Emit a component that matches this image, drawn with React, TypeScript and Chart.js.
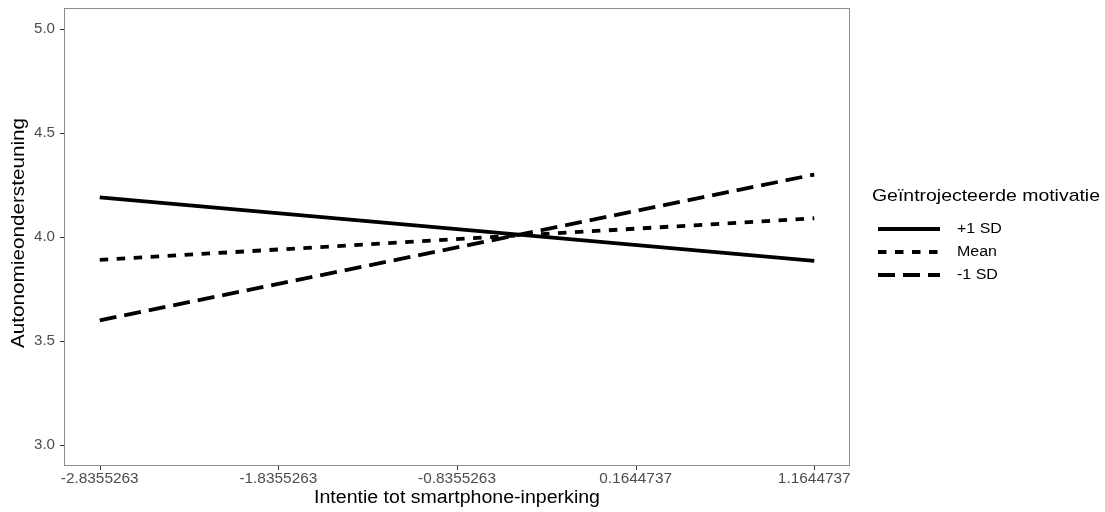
import React, { useEffect, useRef } from "react";
import { Chart, registerables } from "chart.js";

Chart.register(...registerables);

const xValues = [-2.8355263, 1.1644737];
const xTicks = [-2.8355263, -1.8355263, -0.8355263, 0.1644737, 1.1644737];
const xTickLabels = ["-2.8355263", "-1.8355263", "-0.8355263", "0.1644737", "1.1644737"];
const yTicks = [3.0, 3.5, 4.0, 4.5, 5.0];
const yTickLabels = ["3.0", "3.5", "4.0", "4.5", "5.0"];
const seriesLabels = ["+1 SD", "Mean", "-1 SD"];
const plusOneSD = [4.19, 3.885];
const meanValues = [3.89, 4.09];
const minusOneSD = [3.6, 4.3];
const dashPatterns: number[][] = [[], [8.5, 8.5], [17, 8]];
const legendTitle = "Geïntrojecteerde motivatie";
const xTitle = "Intentie tot smartphone-inperking";
const yTitle = "Autonomieondersteuning";

const FONT = "'Liberation Sans', Arial, sans-serif";
const LW = 3.8;

function drawStretched(
  ctx: CanvasRenderingContext2D,
  text: string,
  x: number,
  y: number,
  size: number,
  sx: number,
  align: "left" | "center" | "right",
  baseline: CanvasTextBaseline
) {
  ctx.save();
  ctx.font = `${size}px ${FONT}`;
  ctx.textBaseline = baseline;
  ctx.textAlign = align;
  ctx.translate(x, y);
  ctx.scale(sx, 1);
  ctx.fillText(text, 0, 0);
  ctx.restore();
}

function fitWidth(ctx: CanvasRenderingContext2D, text: string, size: number, target: number) {
  ctx.save();
  ctx.font = `${size}px ${FONT}`;
  const w = ctx.measureText(text).width;
  ctx.restore();
  return target / w;
}

export default function App() {
  const ref = useRef<HTMLCanvasElement>(null);
  useEffect(() => {
    document.body.style.margin = "0";
    const seriesData = [plusOneSD, meanValues, minusOneSD];
    const datasets = seriesData.map((vals, i) => ({
      label: seriesLabels[i],
      data: vals.map((v, j) => ({ x: xValues[j], y: v })),
      borderColor: "#000000",
      backgroundColor: "#000000",
      borderWidth: LW,
      borderDash: dashPatterns[i],
      borderCapStyle: "butt" as const,
      pointRadius: 0,
      fill: false,
      tension: 0,
    }));

    const overlay = {
      id: "overlay",
      afterDraw(chart: any) {
        const ctx = chart.ctx as CanvasRenderingContext2D;
        const a = chart.chartArea;
        const xs = chart.scales.x;
        const ys = chart.scales.y;
        ctx.save();
        // panel border
        ctx.strokeStyle = "#8c8c8c";
        ctx.lineWidth = 1;
        ctx.setLineDash([]);
        ctx.strokeRect(Math.round(a.left) + 0.5, Math.round(a.top) + 0.5, Math.round(a.right - a.left) - 1, Math.round(a.bottom - a.top) - 1);
        // tick marks
        ctx.strokeStyle = "#333333";
        ctx.lineWidth = 1;
        xTicks.forEach((v) => {
          const px = Math.round(xs.getPixelForValue(v)) + 0.5;
          ctx.beginPath();
          ctx.moveTo(px, a.bottom);
          ctx.lineTo(px, a.bottom + 4);
          ctx.stroke();
        });
        yTicks.forEach((v) => {
          const py = Math.round(ys.getPixelForValue(v)) + 0.5;
          ctx.beginPath();
          ctx.moveTo(a.left - 4, py);
          ctx.lineTo(a.left, py);
          ctx.stroke();
        });
        // tick labels
        ctx.fillStyle = "#4d4d4d";
        xTicks.forEach((v, i) => {
          drawStretched(ctx, xTickLabels[i], xs.getPixelForValue(v), 479, 14, 1.1, "center", "middle");
        });
        yTicks.forEach((v, i) => {
          drawStretched(ctx, yTickLabels[i], a.left - 9, ys.getPixelForValue(v), 14, 1.08, "right", "middle");
        });
        // axis titles
        ctx.fillStyle = "#000000";
        const sxX = fitWidth(ctx, xTitle, 18, 286);
        drawStretched(ctx, xTitle, (a.left + a.right) / 2, 503, 18, sxX, "center", "alphabetic");
        const sxY = fitWidth(ctx, yTitle, 18, 230);
        ctx.save();
        ctx.translate(19, 233);
        ctx.rotate(-Math.PI / 2);
        drawStretched(ctx, yTitle, 0, 0, 18, sxY, "center", "middle");
        ctx.restore();
        // legend
        const sxL = fitWidth(ctx, legendTitle, 17, 228);
        drawStretched(ctx, legendTitle, 872, 201, 17, sxL, "left", "alphabetic");
        seriesLabels.forEach((lab, i) => {
          const y = 229 + i * 23;
          ctx.beginPath();
          ctx.strokeStyle = "#000000";
          ctx.lineWidth = LW;
          ctx.lineCap = "butt";
          ctx.setLineDash(dashPatterns[i]);
          ctx.moveTo(878, y);
          ctx.lineTo(940, y);
          ctx.stroke();
          ctx.setLineDash([]);
          drawStretched(ctx, lab, 957, y, 15.5, 1.03, "left", "middle");
        });
        ctx.restore();
      },
    };

    const chart = new Chart(ref.current!, {
      type: "line",
      data: { datasets },
      options: {
        animation: false,
        responsive: false,
        maintainAspectRatio: false,
        layout: { padding: { top: 8, right: 255, left: 0, bottom: 0 } },
        plugins: { legend: { display: false }, tooltip: { enabled: false } },
        scales: {
          x: {
            type: "linear",
            min: -3.0355263,
            max: 1.3644737,
            afterBuildTicks: (s: any) => {
              s.ticks = xTicks.map((v) => ({ value: v }));
            },
            afterFit: (s: any) => {
              s.height = 46;
            },
            ticks: { display: false },
            grid: { display: false },
            border: { display: false },
          },
          y: {
            type: "linear",
            min: 2.9,
            max: 5.1,
            afterBuildTicks: (s: any) => {
              s.ticks = yTicks.map((v) => ({ value: v }));
            },
            afterFit: (s: any) => {
              s.width = 64;
            },
            ticks: { display: false },
            grid: { display: false },
            border: { display: false },
          },
        },
      },
      plugins: [overlay],
    } as any);
    return () => chart.destroy();
  }, []);
  return <canvas ref={ref} width={1105} height={512} style={{ display: "block", width: 1105, height: 512 }} />;
}
